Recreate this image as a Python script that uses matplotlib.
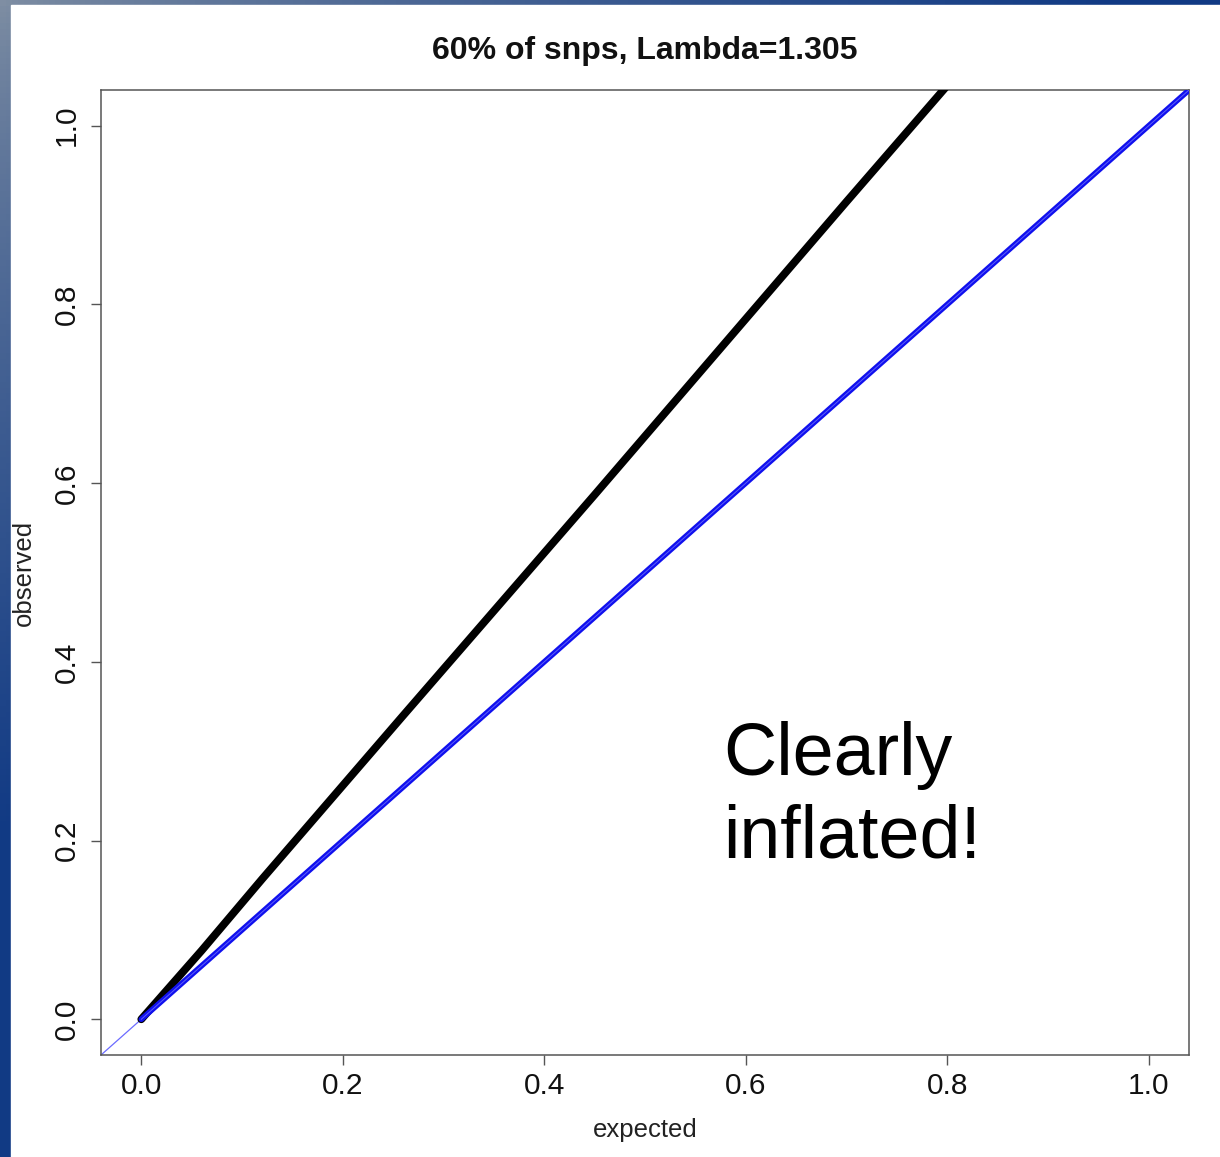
import matplotlib
matplotlib.use("Agg")
import matplotlib.pyplot as plt
import numpy as np

# ---- data ----
TITLE = "60% of snps, Lambda=1.305"
X_LABEL = "expected"
Y_LABEL = "observed"
NOTE_LINES = ["Clearly", "inflated!"]

# observed quantiles (black)
obs_expected = [0.0, 0.06, 0.12, 0.26, 0.45, 0.70, 0.80]
obs_observed = [0.0, 0.077, 0.157, 0.340, 0.587, 0.915, 1.045]

# null quantiles (blue)
null_expected = [0.0, 1.04]
null_observed = [0.0, 1.04]

TICKS = [0.0, 0.2, 0.4, 0.6, 0.8, 1.0]
TICK_LABELS = ["0.0", "0.2", "0.4", "0.6", "0.8", "1.0"]

W, H, DPI = 1220, 1157, 100
FONT = "Liberation Sans"

fig = plt.figure(figsize=(W / DPI, H / DPI), dpi=DPI)

# slide background: gradient strips on left and top
bg = fig.add_axes([0, 0, 1, 1])
bg.set_axis_off()
yy, xx = np.mgrid[0:1:200j, 0:1:200j]
t = np.clip(xx * 1.1 + yy * 1.4, 0, 1) ** 0.75
light = np.array([0.50, 0.56, 0.64])
dark = np.array([0.07, 0.23, 0.52])
img = light[None, None, :] * (1 - t[..., None]) + dark[None, None, :] * t[..., None]
bg.imshow(img, extent=[0, 1, 0, 1], origin="upper", aspect="auto")
bg.add_patch(plt.Rectangle((11 / W, 0), 1, 1 - 5 / H, color="white",
                           transform=bg.transAxes))
bg.set_xlim(0, 1)
bg.set_ylim(0, 1)

# main plot
ax = fig.add_axes([101 / W, 1 - 1055 / H, (1189 - 101) / W, (1055 - 90) / H])
ax.set_xlim(-0.04, 1.04)
ax.set_ylim(-0.04, 1.04)

ax.plot(obs_expected, obs_observed, color="black", lw=5.6,
        solid_capstyle="round", solid_joinstyle="round", zorder=3)
ax.plot(null_expected, null_observed, color="#1010ee", lw=4.0,
        solid_capstyle="round", zorder=4)
ax.plot(null_expected, null_observed, color="#8080ff", lw=0.7, alpha=0.7, zorder=5)
ax.axline((0, 0), slope=1, color="#6b6bff", lw=0.9, zorder=2)

for side in ax.spines.values():
    side.set_color("#555555")
    side.set_linewidth(1.1)

ax.set_xticks(TICKS)
ax.set_xticklabels(TICK_LABELS)
ax.set_yticks(TICKS)
ax.set_yticklabels(TICK_LABELS, rotation=90, va="center")
ax.tick_params(direction="out", length=7.5, width=1.0, color="#555555",
               labelsize=21.5, labelcolor="#111111")
ax.tick_params(axis="x", pad=5)
ax.tick_params(axis="y", pad=7)
for lab in ax.get_xticklabels() + ax.get_yticklabels():
    lab.set_fontfamily(FONT)

ax.set_xlabel(X_LABEL, fontsize=18.5, family=FONT, color="#222222", labelpad=13)
ax.set_ylabel(Y_LABEL, fontsize=18.5, family=FONT, color="#222222", labelpad=12)
ax.set_title(TITLE, fontsize=23, family=FONT, fontweight="bold",
             color="#111111", pad=22)

# annotation
fig.text(723 / W, 1 - 775 / H, NOTE_LINES[0], fontsize=53, family=FONT,
         color="black", va="baseline", ha="left")
fig.text(723 / W, 1 - 858 / H, NOTE_LINES[1], fontsize=53, family=FONT,
         color="black", va="baseline", ha="left")

fig.savefig("out.png", dpi=DPI)
